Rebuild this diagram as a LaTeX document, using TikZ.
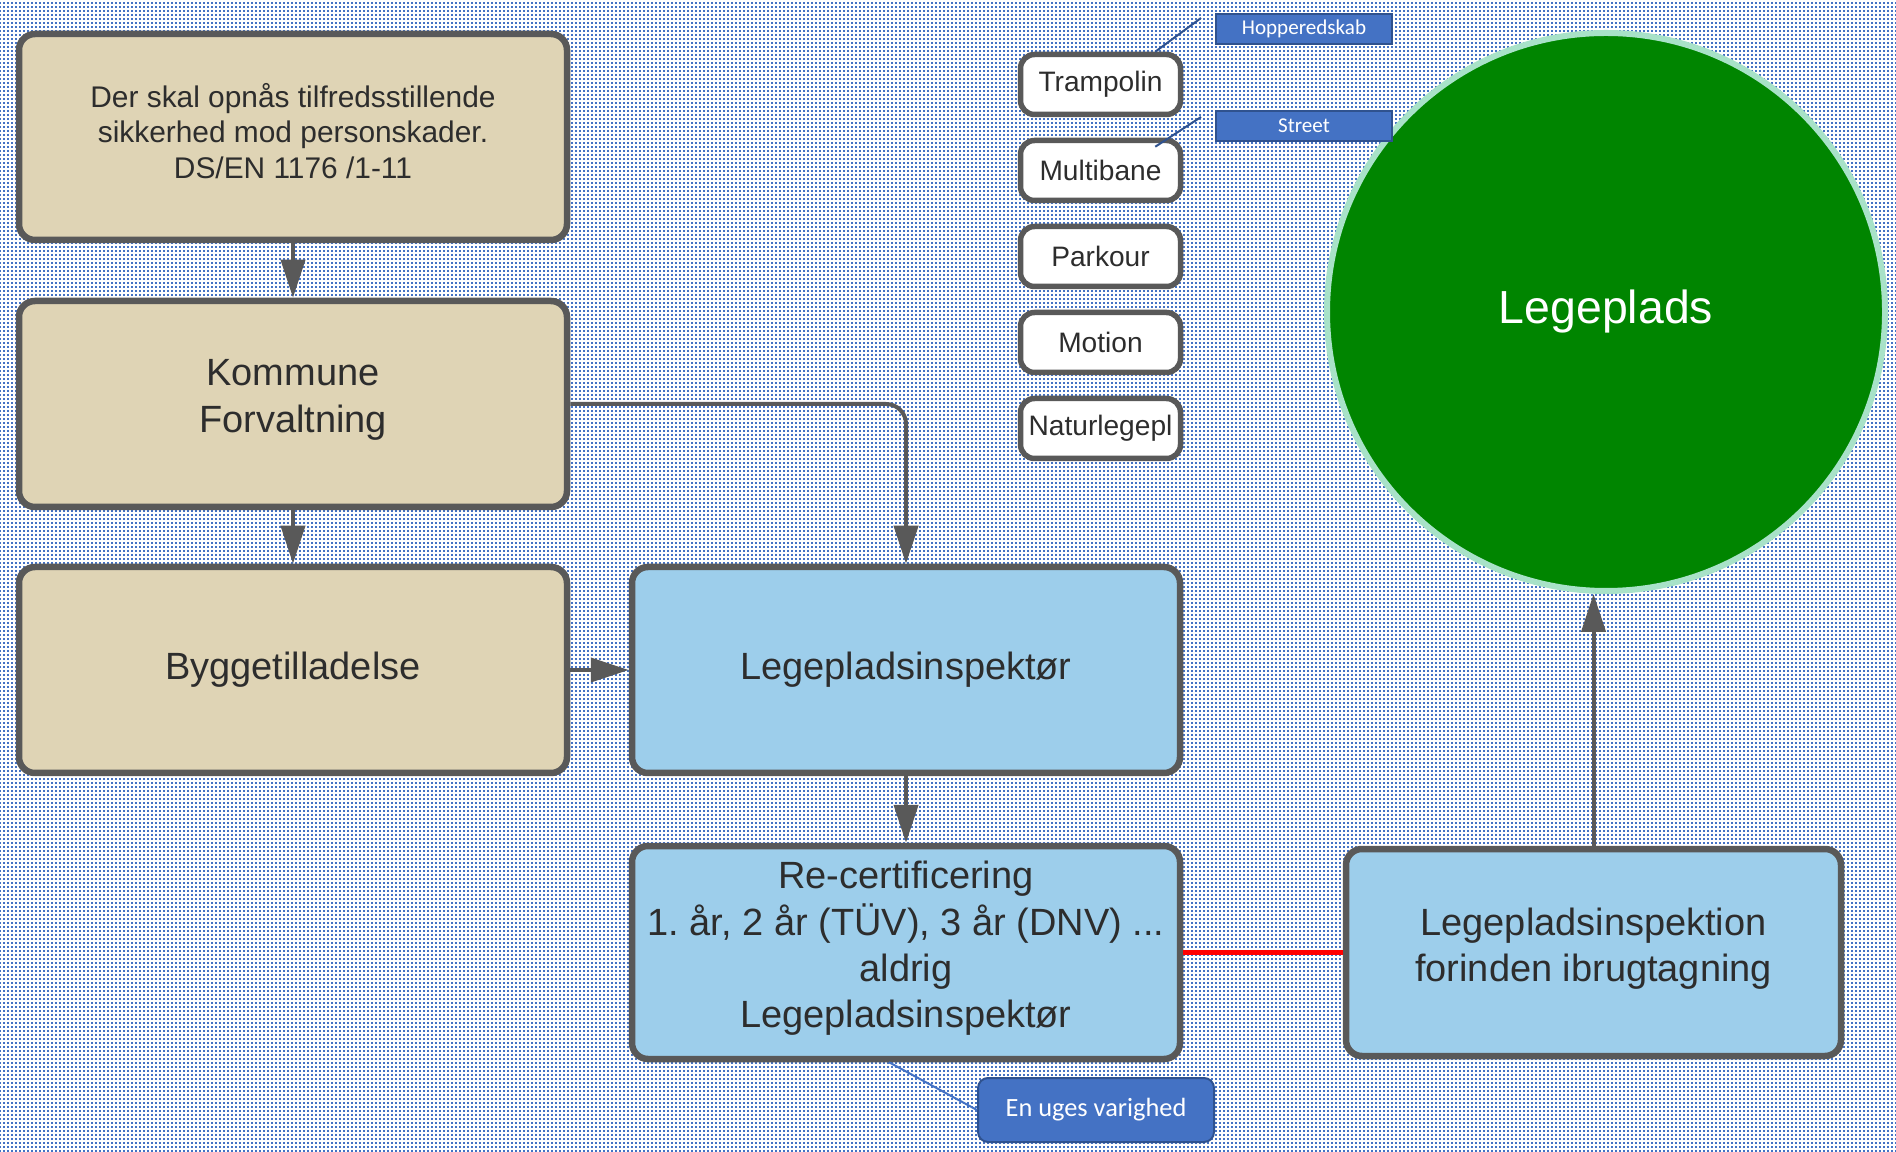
\documentclass[tikz,border=0pt]{standalone}
\usepackage{fontspec}
\setmainfont{Liberation Sans}
\newfontfamily\tagfont{Carlito}
\usetikzlibrary{arrows.meta,patterns}
\frenchspacing

\definecolor{bordergray}{RGB}{89,89,89}
\definecolor{tanfill}{RGB}{223,212,181}
\definecolor{bluefill}{RGB}{157,206,235}
\definecolor{txtgray}{RGB}{45,45,45}
\definecolor{tagblue}{RGB}{68,114,196}
\definecolor{tagedge}{RGB}{47,82,143}
\definecolor{parkgreen}{RGB}{0,133,0}
\definecolor{rimgreen}{RGB}{168,226,200}

% prikket baggrund
\pgfdeclarepatternformonly{bgdots}{\pgfpointorigin}{\pgfpoint{1.14pt}{1.14pt}}{\pgfpoint{1.14pt}{1.14pt}}{
    \pgfpathrectangle{\pgfpointorigin}{\pgfpoint{0.64pt}{0.64pt}}
    \pgfusepath{fill}
}

\tikzset{
    tanbox/.style={draw=bordergray, line width=0.65mm, rounded corners=1.6mm, fill=tanfill, text=txtgray,
        align=center, minimum width=54.8mm, minimum height=20.6mm, inner sep=0pt,
        font=\fontsize{10.8}{13.2}\selectfont},
    bluebox/.style={tanbox, fill=bluefill},
    smallbox/.style={draw=bordergray, line width=0.55mm, rounded corners=1.4mm, fill=white, text=txtgray,
        minimum width=16mm, minimum height=6mm, inner sep=0pt, font=\fontsize{8}{10}\selectfont},
    tagbox/.style={draw=tagedge, line width=0.2mm, fill=tagblue, text=white,
        font=\tagfont\fontsize{6}{7}\selectfont, minimum width=17.6mm, minimum height=3mm, inner sep=0pt},
    flow/.style={draw=bordergray, line width=0.4mm, -{Triangle[length=3.8mm,width=2.4mm]}},
    callout/.style={draw=tagedge, line width=0.2mm},
}

\begin{document}
\begin{tikzpicture}[x=0.1mm,y=-0.1mm]
    \fill[white] (0,0) rectangle (1896,1152);
    \fill[pattern=bgdots, pattern color=tagblue] (0,0) rectangle (1896,1152);

    \node[tanbox, font=\fontsize{8.5}{10.2}\selectfont] (krav) at (293,137) {Der skal opnås tilfredsstillende\\sikkerhed mod personskader.\\DS/EN 1176 /1-11\vspace{1.2mm}};
    \node[tanbox] (kommune) at (293,404) {Kommune\\Forvaltning\vspace{0.8mm}};
    \node[tanbox] (bygge) at (293,670) {Byggetilladelse};
    \node[bluebox] (inspektoer) at (906,670) {Legepladsinspektør};
    \node[bluebox, minimum height=21.3mm] (recert) at (906,952.5) {Re-certificering\\1. år, 2 år (TÜV), 3 år (DNV) ...\\aldrig\\Legepladsinspektør\vspace{0.8mm}};
    \node[bluebox, minimum width=49.5mm, minimum height=20.7mm] (ibrug) at (1593.5,952.5) {Legepladsinspektion\\forinden ibrugtagning\vspace{0.8mm}};
    \node[circle, fill=parkgreen, draw=rimgreen, line width=0.6mm, minimum size=55.8mm, inner sep=0pt,
        text=white, font=\fontsize{13.2}{16}\selectfont] (legeplads) at (1606,312) {Legeplads};

    \foreach \navn [count=\i] in {Trampolin,Multibane,Parkour,Motion,Naturlegepl}
        \node[smallbox] (s\i) at (1100.5,{84.5+86*(\i-1)}) {\navn};

    \node[tagbox] (hop) at (1304,29) {Hopperedskab};
    \node[tagbox] (street) at (1304,126) {Street};
    \node[tagbox, rounded corners=1mm, minimum width=23.6mm, minimum height=6.4mm,
        font=\tagfont\fontsize{7.5}{9}\selectfont] (uge) at (1096,1110) {En uges varighed};

    \draw[flow] (krav) -- (kommune);
    \draw[flow] (kommune) -- (bygge);
    \draw[flow] (bygge) -- (inspektoer);
    \draw[flow, rounded corners=2mm] (kommune.east) -| (inspektoer.north);
    \draw[flow] (inspektoer) -- (recert);
    \draw[flow] (ibrug.north) -- (ibrug.north |- legeplads.south);
    \draw[red, line width=0.5mm] (recert) -- (ibrug);

    \draw[callout] ([xshift=-2.8mm]s1.north east) -- ([xshift=-1.4mm,yshift=1.1mm]hop.west);
    \draw[callout] ([xshift=-2.8mm,yshift=-0.9mm]s2.north east) -- ([xshift=-1.4mm,yshift=0.9mm]street.west);
    \draw[callout, draw=tagblue] ([xshift=-1.7mm]recert.south) -- (uge.west);
\end{tikzpicture}
\end{document}
